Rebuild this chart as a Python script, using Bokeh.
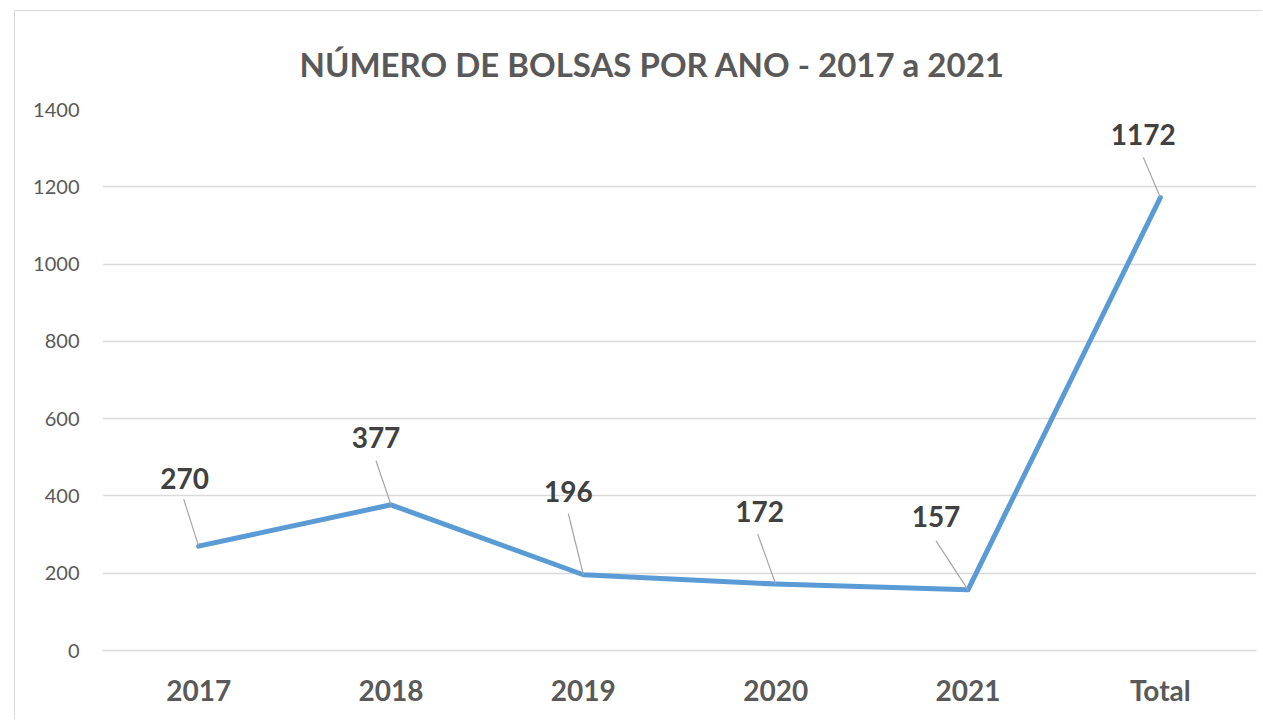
from bokeh.plotting import figure
from bokeh.models import FixedTicker, Title, Range1d
from bokeh.core.properties import value
from bokeh.embed import file_html
from bokeh.resources import INLINE

# ---- data ----
categories = ["2017", "2018", "2019", "2020", "2021", "Total"]
bolsas = [270, 377, 196, 172, 157, 1172]
y_ticks = [0, 200, 400, 600, 800, 1000, 1200, 1400]
title_text = "NÚMERO DE BOLSAS  POR ANO - 2017 a 2021"

# ---- style: label / leader offsets in screen pixels (dx, dy; dy>0 = up) ----
label_offsets = [(-14, 68), (-15, 67), (-15, 83), (-16, 73), (-32, 73), (-17, 63)]
leader_offsets = [(-15, 47), (-15, 44), (-15, 61), (-18, 50), (-32, 49), (-17, 40)]

W, H = 1248, 709
MB_L, MB_R, MB_T, MB_B = 87, 7, 98, 70
frame_w = W - MB_L - MB_R
frame_h = H - MB_T - MB_B
Y_MAX = 1400
n = len(categories)
px_x = frame_w / n          # pixels per category unit
px_y = frame_h / Y_MAX      # pixels per value unit

FONT = "Lato"
GRAY = "#595959"

p = figure(width=W, height=H, output_backend="svg", toolbar_location=None,
           x_range=Range1d(-0.5, n - 0.5), y_range=Range1d(0, Y_MAX),
           min_border_left=MB_L, min_border_right=MB_R,
           min_border_top=MB_T, min_border_bottom=MB_B)
p.margin = (10, 0, 0, 14)
p.styles = {"border-left": "1px solid #d9d9d9", "border-top": "1px solid #d9d9d9"}
p.outline_line_color = None
p.background_fill_color = "white"
p.border_fill_color = "white"

p.title = Title(text=title_text, align="left",
                text_font=FONT, text_font_size="33px", text_font_style="bold",
                text_color=GRAY, offset=197, standoff=52)

xs = list(range(n))
p.line(xs, bolsas, line_color="#5b9bd5", line_width=5, line_join="round", line_cap="round")

# leader lines
x0 = [x + dx / px_x for x, (dx, dy) in zip(xs, leader_offsets)]
y0 = [y + dy / px_y for y, (dx, dy) in zip(bolsas, leader_offsets)]
p.segment(x0=x0, y0=y0, x1=xs, y1=bolsas, line_color="#a6a6a6", line_width=1.2)

# data labels
lx = [x + dx / px_x for x, (dx, dy) in zip(xs, label_offsets)]
ly = [y + dy / px_y for y, (dx, dy) in zip(bolsas, label_offsets)]
p.text(x=lx, y=ly, text=[str(v) for v in bolsas], text_align="center",
       text_baseline="middle", text_font=value(FONT), text_font_size="28px",
       text_font_style="bold", text_color="#404040")

# axes
p.xaxis.ticker = FixedTicker(ticks=xs)
p.xaxis.major_label_overrides = {i: c for i, c in enumerate(categories)}
p.xaxis.major_label_text_font = FONT
p.xaxis.major_label_text_font_size = "28px"
p.xaxis.major_label_text_font_style = "bold"
p.xaxis.major_label_text_color = GRAY
p.xaxis.major_label_standoff = 16
p.xaxis.axis_line_color = "#d9d9d9"
p.xaxis.axis_line_width = 1.5
p.xaxis.major_tick_line_color = None
p.xaxis.minor_tick_line_color = None

p.yaxis.ticker = FixedTicker(ticks=y_ticks)
p.yaxis.major_label_text_font = FONT
p.yaxis.major_label_text_font_size = "20px"
p.yaxis.major_label_text_color = GRAY
p.yaxis.major_label_standoff = 17
p.yaxis.axis_line_color = None
p.yaxis.major_tick_line_color = None
p.yaxis.minor_tick_line_color = None

p.xgrid.grid_line_color = None
p.ygrid.grid_line_color = "#d9d9d9"
p.ygrid.grid_line_width = 1.5

open("out.html", "w").write(file_html(p, INLINE))
